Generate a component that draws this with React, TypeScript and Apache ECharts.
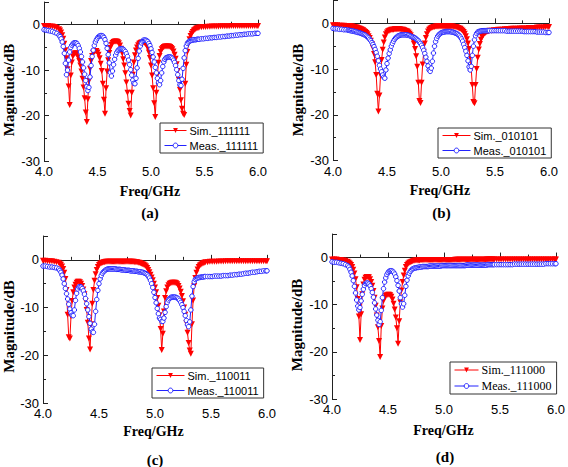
import React, { useEffect, useRef } from "react";
import * as echarts from "echarts";

// Frequency sweep (GHz), shared by every panel
const freq = [
  4.00, 4.02, 4.04, 4.06, 4.08, 4.10, 4.12, 4.14,
  4.15, 4.16, 4.17, 4.18, 4.19, 4.20, 4.21, 4.22, 4.23, 4.24,
  4.25, 4.26, 4.27, 4.28, 4.29, 4.30, 4.31, 4.32, 4.33, 4.34,
  4.35, 4.36, 4.37, 4.38, 4.39, 4.40, 4.41, 4.42, 4.43, 4.44,
  4.45, 4.46, 4.47, 4.48, 4.49, 4.50, 4.51, 4.52, 4.53, 4.54,
  4.55, 4.56, 4.57, 4.58, 4.59, 4.60, 4.61, 4.62, 4.63, 4.64,
  4.65, 4.66, 4.67, 4.68, 4.69, 4.70, 4.71, 4.72, 4.73, 4.74,
  4.75, 4.76, 4.77, 4.78, 4.79, 4.80, 4.81, 4.82, 4.83, 4.84,
  4.85, 4.86, 4.87, 4.88, 4.89, 4.90, 4.91, 4.92, 4.93, 4.94,
  4.95, 4.96, 4.97, 4.98, 4.99, 5.00, 5.01, 5.02, 5.03, 5.04,
  5.05, 5.06, 5.07, 5.08, 5.09, 5.10, 5.11, 5.12, 5.13, 5.14,
  5.15, 5.16, 5.17, 5.18, 5.19, 5.20, 5.21, 5.22, 5.23, 5.24,
  5.25, 5.26, 5.27, 5.28, 5.29, 5.30, 5.31, 5.32, 5.33, 5.34,
  5.35, 5.36, 5.37, 5.38, 5.39, 5.40, 5.41, 5.42, 5.43, 5.44, 5.45,
  5.47, 5.49, 5.51, 5.53, 5.55, 5.57, 5.59, 5.61, 5.63, 5.65, 5.67, 5.69, 5.71, 5.73,
  5.75, 5.77, 5.79, 5.81, 5.83, 5.85, 5.87, 5.89, 5.91, 5.93, 5.95, 5.97, 5.99, 6.00,
];

// (a) 111111
const simA = [
  -0.3, -0.3, -0.3, -0.4, -0.4, -0.5, -0.7, -1.0,
  -1.3, -1.7, -2.3, -3.1, -4.2, -5.6, -7.4, -9.8, -13.6, -17.7,
  -11.2, -8.3, -7.0, -6.5, -6.3, -6.3, -6.6, -7.2, -8.0, -9.0,
  -10.3, -11.9, -13.8, -16.2, -19.3, -21.4, -16.4, -12.4, -9.7, -8.0,
  -6.9, -6.2, -5.9, -5.8, -5.8, -6.1, -6.6, -7.4, -8.6, -10.2,
  -13.0, -16.5, -19.6, -14.0, -10.3, -7.8, -6.2, -5.1, -4.4, -4.0,
  -3.8, -3.7, -3.7, -3.7, -3.8, -4.1, -4.6, -5.3, -6.3, -7.6,
  -9.0, -10.7, -12.7, -15.0, -17.4, -19.0, -20.0, -15.0, -11.0, -8.3,
  -6.7, -5.7, -5.0, -4.5, -4.2, -4.0, -3.9, -3.9, -3.9, -4.0,
  -4.2, -4.6, -5.2, -6.1, -7.3, -9.0, -11.2, -14.0, -17.3, -20.3,
  -15.0, -11.0, -8.4, -6.9, -6.0, -5.4, -5.1, -4.9, -4.8, -4.8,
  -4.8, -4.8, -4.8, -4.9, -5.1, -5.4, -5.9, -6.6, -7.5, -8.7,
  -10.2, -12.1, -14.3, -16.6, -18.5, -19.6, -19.9, -13.0, -8.8, -6.0,
  -4.3, -3.2, -2.5, -2.0, -1.6, -1.3, -1.1, -0.9, -0.8, -0.7, -0.6,
  -0.55, -0.5, -0.5, -0.45, -0.45, -0.4, -0.4, -0.4, -0.4, -0.35, -0.35, -0.35, -0.35, -0.35,
  -0.3, -0.3, -0.3, -0.3, -0.3, -0.3, -0.3, -0.3, -0.3, -0.3, -0.3, -0.3, -0.3, -0.3,
];
const measA = [
  -1.1, -1.2, -1.3, -1.4, -1.5, -1.7, -1.9, -2.3,
  -2.6, -3.1, -3.8, -4.8, -6.3, -8.5, -11.0, -10.0, -7.8, -6.0,
  -5.0, -4.5, -4.2, -4.0, -4.0, -4.0, -4.2, -4.6, -5.2, -6.0,
  -7.0, -8.2, -9.5, -10.9, -12.3, -13.6, -14.5, -13.8, -11.5, -9.0,
  -7.0, -5.6, -4.6, -3.8, -3.3, -2.9, -2.6, -2.5, -2.4, -2.4,
  -2.5, -2.8, -3.3, -4.1, -5.2, -6.6, -8.4, -10.5, -11.3, -10.2,
  -8.8, -7.6, -6.7, -6.1, -5.7, -5.5, -5.3, -5.3, -5.3, -5.4,
  -5.6, -5.9, -6.4, -7.0, -7.8, -8.8, -9.9, -11.1, -12.2, -12.9,
  -13.0, -11.8, -9.5, -7.4, -5.8, -4.7, -4.0, -3.6, -3.4, -3.4,
  -3.4, -3.5, -3.7, -4.1, -4.6, -5.3, -6.1, -7.1, -8.2, -9.4,
  -10.6, -11.8, -12.8, -13.2, -12.3, -10.6, -9.2, -8.2, -7.6, -7.3,
  -7.2, -7.1, -7.1, -7.1, -7.2, -7.4, -7.8, -8.3, -9.0, -9.9,
  -11.0, -12.3, -13.2, -13.4, -12.0, -9.6, -7.3, -5.7, -4.7, -4.1,
  -3.8, -3.6, -3.5, -3.4, -3.4, -3.3, -3.3, -3.3, -3.2, -3.2, -3.2,
  -3.1, -3.1, -3.0, -3.0, -2.9, -2.9, -2.8, -2.8, -2.7, -2.7, -2.6, -2.6, -2.5, -2.5,
  -2.4, -2.4, -2.3, -2.3, -2.2, -2.2, -2.1, -2.1, -2.0, -2.0, -2.0, -1.9, -1.9, -1.9,
];

// (b) 010101
const simB = [
  -0.4, -0.4, -0.4, -0.5, -0.5, -0.5, -0.6, -0.6,
  -0.6, -0.7, -0.7, -0.7, -0.8, -0.8, -0.9, -0.9, -1.0, -1.1,
  -1.2, -1.3, -1.4, -1.5, -1.7, -1.9, -2.1, -2.4, -2.8, -3.2,
  -3.8, -4.5, -5.4, -6.7, -8.5, -11.3, -15.4, -19.3, -15.8, -11.3,
  -8.0, -5.8, -4.2, -3.1, -2.4, -2.0, -1.7, -1.6, -1.5, -1.4,
  -1.4, -1.4, -1.3, -1.3, -1.3, -1.3, -1.3, -1.3, -1.4, -1.4,
  -1.4, -1.5, -1.6, -1.7, -1.8, -2.0, -2.3, -2.6, -3.1, -3.7,
  -4.5, -5.6, -7.2, -9.5, -13.0, -17.0, -17.4, -13.0, -9.0, -6.2,
  -4.4, -3.2, -2.4, -1.8, -1.4, -1.2, -1.0, -0.9, -0.8, -0.8,
  -0.7, -0.7, -0.7, -0.7, -0.7, -0.7, -0.7, -0.7, -0.7, -0.7,
  -0.7, -0.7, -0.7, -0.7, -0.7, -0.7, -0.7, -0.8, -0.8, -0.8,
  -0.9, -1.0, -1.1, -1.2, -1.4, -1.6, -1.9, -2.3, -2.8, -3.5,
  -4.4, -5.6, -7.4, -10.0, -13.5, -17.2, -17.5, -13.5, -10.0, -7.5,
  -5.7, -4.5, -3.6, -3.0, -2.6, -2.3, -2.1, -1.9, -1.8, -1.7, -1.6,
  -1.6, -1.5, -1.5, -1.4, -1.4, -1.4, -1.3, -1.3, -1.3, -1.2, -1.2, -1.2, -1.2, -1.1,
  -1.1, -1.1, -1.1, -1.0, -1.0, -1.0, -1.0, -0.9, -0.9, -0.9, -0.9, -0.8, -0.8, -0.8,
];
const measB = [
  -1.1, -1.2, -1.2, -1.3, -1.3, -1.4, -1.4, -1.5,
  -1.5, -1.6, -1.6, -1.7, -1.7, -1.8, -1.8, -1.9, -2.0, -2.0,
  -2.1, -2.2, -2.3, -2.4, -2.5, -2.6, -2.8, -3.0, -3.2, -3.5,
  -3.8, -4.2, -4.6, -5.1, -5.7, -6.4, -7.2, -8.2, -9.2, -10.0,
  -10.6, -11.3, -11.8, -12.0, -10.2, -8.8, -7.6, -6.6, -5.8, -5.0,
  -4.4, -3.9, -3.5, -3.2, -3.0, -2.8, -2.7, -2.6, -2.5, -2.5,
  -2.5, -2.5, -2.5, -2.5, -2.6, -2.6, -2.7, -2.8, -2.9, -3.0,
  -3.1, -3.2, -3.4, -3.6, -3.8, -4.1, -4.4, -4.8, -5.3, -5.9,
  -6.6, -7.4, -8.3, -9.3, -10.2, -10.5, -9.8, -8.3, -6.5, -5.0,
  -4.0, -3.3, -2.8, -2.5, -2.3, -2.1, -2.0, -1.9, -1.9, -1.8,
  -1.8, -1.8, -1.8, -1.8, -1.8, -1.9, -1.9, -2.0, -2.1, -2.2,
  -2.3, -2.5, -2.7, -3.0, -3.4, -3.9, -4.6, -5.3, -6.1, -7.0,
  -8.2, -9.5, -10.2, -9.4, -7.0, -5.0, -3.6, -2.7, -2.2, -1.9,
  -1.8, -1.7, -1.7, -1.6, -1.6, -1.6, -1.6, -1.6, -1.6, -1.6, -1.6,
  -1.6, -1.6, -1.6, -1.6, -1.6, -1.6, -1.6, -1.7, -1.7, -1.7, -1.7, -1.7, -1.7, -1.7,
  -1.7, -1.8, -1.8, -1.8, -1.8, -1.8, -1.8, -1.9, -1.9, -1.9, -1.9, -2.0, -2.0, -2.0,
];

// (c) 110011
const simC = [
  -0.2, -0.2, -0.3, -0.3, -0.3, -0.4, -0.5, -0.6,
  -0.8, -1.0, -1.4, -1.9, -2.7, -4.0, -6.3, -11.5, -16.2, -16.5,
  -11.8, -8.6, -6.8, -5.8, -5.2, -4.8, -4.6, -4.6, -4.7, -5.0,
  -5.5, -6.2, -7.2, -8.6, -10.5, -13.2, -16.5, -18.8, -13.5, -9.2,
  -6.3, -4.4, -3.0, -2.1, -1.5, -1.1, -0.8, -0.7, -0.6, -0.5,
  -0.5, -0.4, -0.4, -0.4, -0.4, -0.4, -0.4, -0.4, -0.4, -0.4,
  -0.4, -0.4, -0.4, -0.4, -0.4, -0.4, -0.4, -0.4, -0.4, -0.4,
  -0.4, -0.4, -0.4, -0.4, -0.4, -0.4, -0.4, -0.5, -0.5, -0.5,
  -0.6, -0.6, -0.7, -0.8, -0.9, -1.0, -1.2, -1.4, -1.7, -2.1,
  -2.6, -3.1, -3.7, -4.3, -5.0, -5.8, -6.8, -8.0, -9.6, -11.6,
  -14.5, -18.9, -15.5, -10.8, -8.0, -6.6, -5.8, -5.3, -5.0, -4.9,
  -4.8, -4.8, -4.8, -4.8, -4.9, -5.1, -5.5, -6.0, -6.7, -7.6,
  -8.7, -10.0, -11.5, -13.3, -15.3, -17.4, -19.0, -19.7, -13.5, -8.5,
  -5.5, -3.8, -2.7, -2.0, -1.5, -1.2, -1.0, -0.8, -0.7, -0.6, -0.5,
  -0.5, -0.4, -0.4, -0.4, -0.4, -0.35, -0.35, -0.35, -0.3, -0.3, -0.3, -0.3, -0.3, -0.3,
  -0.3, -0.3, -0.3, -0.3, -0.3, -0.3, -0.3, -0.3, -0.3, -0.3, -0.3, -0.3, -0.3, -0.3,
];
const measC = [
  -1.3, -1.3, -1.4, -1.5, -1.5, -1.6, -1.7, -1.9,
  -2.2, -2.6, -3.2, -4.0, -5.0, -6.0, -7.1, -8.2, -9.3, -10.3,
  -11.1, -11.6, -11.7, -10.5, -8.5, -7.0, -6.1, -5.7, -5.6, -5.7,
  -6.0, -6.5, -7.2, -8.1, -9.2, -10.5, -11.9, -13.3, -14.5, -15.1,
  -15.2, -13.5, -10.8, -8.3, -6.4, -5.0, -4.0, -3.3, -2.8, -2.5,
  -2.3, -2.1, -2.0, -1.9, -1.9, -1.9, -1.9, -1.9, -1.9, -1.9,
  -1.9, -2.0, -2.0, -2.0, -2.0, -2.1, -2.1, -2.1, -2.1, -2.2,
  -2.2, -2.2, -2.2, -2.3, -2.3, -2.3, -2.3, -2.4, -2.4, -2.4,
  -2.5, -2.5, -2.5, -2.6, -2.6, -2.7, -2.8, -2.9, -3.1, -3.4,
  -3.8, -4.3, -5.0, -5.8, -6.8, -7.9, -9.0, -10.2, -11.3, -12.2,
  -12.5, -12.9, -12.9, -12.2, -11.0, -9.8, -8.9, -8.4, -8.1, -7.9,
  -7.8, -7.8, -7.8, -7.8, -7.9, -8.0, -8.2, -8.5, -8.9, -9.4,
  -10.0, -10.8, -11.7, -12.7, -13.6, -14.0, -13.0, -10.5, -7.6, -5.6,
  -4.6, -4.1, -3.9, -3.8, -3.7, -3.7, -3.6, -3.6, -3.6, -3.5, -3.5,
  -3.5, -3.5, -3.5, -3.4, -3.4, -3.4, -3.4, -3.3, -3.3, -3.3, -3.2, -3.2, -3.1, -3.1,
  -3.0, -3.0, -2.9, -2.8, -2.8, -2.7, -2.6, -2.6, -2.5, -2.4, -2.4, -2.3, -2.3, -2.3,
];

// (d) 111000
const simD = [
  -0.4, -0.4, -0.4, -0.5, -0.5, -0.6, -0.7, -0.9,
  -1.1, -1.3, -1.6, -2.0, -2.6, -3.4, -4.6, -6.3, -8.8, -12.5,
  -17.5, -12.0, -7.8, -5.7, -4.7, -4.3, -4.1, -4.1, -4.2, -4.6,
  -5.2, -6.0, -7.1, -8.5, -10.2, -12.3, -14.8, -17.7, -21.1, -14.5,
  -10.8, -9.2, -8.5, -8.1, -8.0, -7.9, -7.9, -8.0, -8.3, -8.9,
  -9.8, -11.0, -12.7, -15.0, -18.3, -13.5, -9.5, -7.0, -5.2, -3.8,
  -2.8, -2.0, -1.6, -1.3, -1.1, -1.0, -0.9, -0.8, -0.7, -0.7,
  -0.6, -0.6, -0.6, -0.6, -0.5, -0.5, -0.5, -0.5, -0.5, -0.5,
  -0.5, -0.5, -0.5, -0.5, -0.5, -0.5, -0.5, -0.5, -0.5, -0.5,
  -0.5, -0.5, -0.5, -0.5, -0.5, -0.5, -0.5, -0.5, -0.5, -0.5,
  -0.5, -0.5, -0.5, -0.5, -0.5, -0.45, -0.45, -0.45, -0.45, -0.45,
  -0.45, -0.45, -0.45, -0.45, -0.45, -0.45, -0.45, -0.45, -0.45, -0.45,
  -0.45, -0.45, -0.45, -0.45, -0.45, -0.45, -0.45, -0.45, -0.45, -0.45,
  -0.45, -0.45, -0.45, -0.4, -0.4, -0.4, -0.4, -0.4, -0.4, -0.4, -0.4,
  -0.4, -0.4, -0.4, -0.4, -0.4, -0.4, -0.4, -0.4, -0.4, -0.4, -0.4, -0.4, -0.4, -0.4,
  -0.4, -0.4, -0.4, -0.4, -0.4, -0.4, -0.4, -0.4, -0.4, -0.4, -0.4, -0.4, -0.4, -0.4,
];
const measD = [
  -0.9, -1.0, -1.0, -1.1, -1.2, -1.3, -1.5, -1.7,
  -2.0, -2.5, -3.1, -3.9, -4.9, -6.1, -7.5, -9.0, -10.3, -11.1,
  -10.6, -9.2, -7.8, -6.7, -5.9, -5.5, -5.4, -5.4, -5.6, -6.0,
  -6.6, -7.4, -8.4, -9.6, -10.9, -12.2, -13.3, -14.2, -13.6, -11.2,
  -8.5, -6.6, -5.2, -4.3, -3.6, -3.2, -2.9, -2.8, -2.8, -2.9,
  -3.1, -3.5, -4.1, -4.9, -5.9, -7.1, -8.5, -9.8, -10.5, -9.8,
  -8.0, -6.1, -4.8, -3.9, -3.3, -2.9, -2.6, -2.4, -2.3, -2.2,
  -2.2, -2.1, -2.1, -2.0, -2.0, -2.0, -1.9, -1.9, -1.9, -1.9,
  -1.9, -1.9, -1.8, -1.8, -1.8, -1.8, -1.8, -1.8, -1.8, -1.8,
  -1.8, -1.8, -1.8, -1.7, -1.7, -1.7, -1.7, -1.7, -1.7, -1.7,
  -1.7, -1.7, -1.7, -1.7, -1.7, -1.7, -1.7, -1.7, -1.7, -1.7,
  -1.7, -1.7, -1.7, -1.7, -1.7, -1.6, -1.6, -1.6, -1.6, -1.6,
  -1.6, -1.6, -1.6, -1.6, -1.6, -1.6, -1.6, -1.6, -1.6, -1.6,
  -1.6, -1.6, -1.6, -1.6, -1.5, -1.5, -1.5, -1.5, -1.5, -1.5, -1.5,
  -1.5, -1.5, -1.5, -1.5, -1.5, -1.5, -1.5, -1.5, -1.4, -1.4, -1.4, -1.4, -1.4, -1.4,
  -1.4, -1.4, -1.4, -1.4, -1.4, -1.4, -1.4, -1.4, -1.3, -1.3, -1.3, -1.3, -1.3, -1.3,
];

const codes = ["111111", "010101", "110011", "111000"];
const panelLetters = ["(a)", "(b)", "(c)", "(d)"];
const simSeries = [simA, simB, simC, simD];
const measSeries = [measA, measB, measC, measD];
const xTicks = [4.0, 4.5, 5.0, 5.5, 6.0];
const yTicks = [0, -10, -20, -30];

const SANS = '"Liberation Sans", Arial, Helvetica, sans-serif';
const SERIF = '"Liberation Serif", "Times New Roman", Times, serif';
const RED = "#ff0000";
const BLUE = "#2323ff";
const AXIS = "#222222";

// layout (pixels)
const grids = [
  { left: 44, top: 2, width: 214, height: 159 },
  { left: 333, top: 0.5, width: 216, height: 160 },
  { left: 43, top: 236, width: 224, height: 167 },
  { left: 332, top: 234, width: 225, height: 165 },
];
const magPos = [[8.5, 90], [298, 90], [8.5, 326.5], [297, 325]];
const freqPos = [[150, 191.5], [440, 190.5], [153.5, 431.5], [443.5, 430]];
const letterPos = [[150, 213], [441.5, 213], [155, 460], [445, 456.5]];
const legendPos = [
  { left: 160, top: 123, w: 22, font: SANS, size: 11 },
  { left: 438, top: 128, w: 28, font: SANS, size: 11 },
  { left: 152, top: 368, w: 28, font: SANS, size: 11 },
  { left: 450, top: 362, w: 24, font: SERIF, size: 12 },
];

export default function App() {
  const ref = useRef<HTMLDivElement>(null);
  useEffect(() => {
    if (!ref.current) return;
    const chart = echarts.init(ref.current, undefined, { renderer: "svg" });
    const xAxis: any[] = [];
    const yAxis: any[] = [];
    const series: any[] = [];
    const legend: any[] = [];
    const graphic: any[] = [];
    grids.forEach((g, i) => {
      xAxis.push({
        type: "value",
        gridIndex: i,
        min: xTicks[0],
        max: xTicks[xTicks.length - 1],
        interval: 0.5,
        axisLine: { show: true, lineStyle: { color: AXIS, width: 1 } },
        axisTick: { show: true, inside: true, length: 5, lineStyle: { color: AXIS } },
        minorTick: { show: true, splitNumber: 2, length: 3, lineStyle: { color: AXIS } },
        splitLine: { show: false },
        axisLabel: {
          margin: 4,
          fontFamily: SANS,
          fontSize: 13,
          color: "#000",
          formatter: (v: number) => v.toFixed(1),
        },
      });
      yAxis.push({
        type: "value",
        gridIndex: i,
        min: yTicks[yTicks.length - 1],
        max: 5,
        interval: 10,
        axisLine: { show: true, lineStyle: { color: AXIS, width: 1 } },
        axisTick: { show: true, inside: true, length: 5, lineStyle: { color: AXIS } },
        minorTick: { show: true, splitNumber: 2, length: 3, lineStyle: { color: AXIS } },
        splitLine: { show: false },
        axisLabel: {
          margin: 4,
          fontFamily: SANS,
          fontSize: 13,
          color: "#000",
          formatter: (v: number) => (yTicks.includes(v) ? String(v) : ""),
        },
      });
      const simName = "Sim._" + codes[i];
      const measName = "Meas._" + codes[i];
      series.push({
        type: "line",
        name: simName,
        xAxisIndex: i,
        yAxisIndex: i,
        data: freq.map((f, k) => [f, simSeries[i][k]]),
        symbol: "triangle",
        symbolRotate: 180,
        symbolSize: 6,
        showSymbol: true,
        showAllSymbol: true,
        lineStyle: { color: RED, width: 1 },
        itemStyle: { color: RED },
        z: 2,
      });
      series.push({
        type: "line",
        name: measName,
        xAxisIndex: i,
        yAxisIndex: i,
        data: freq.map((f, k) => [f, measSeries[i][k]]),
        symbol: "circle",
        symbolSize: 4.5,
        showSymbol: true,
        showAllSymbol: true,
        lineStyle: { color: BLUE, width: 1 },
        itemStyle: { color: "#ffffff", borderColor: BLUE, borderWidth: 1 },
        z: 3,
      });
      const lp = legendPos[i];
      legend.push({
        data: [simName, measName],
        orient: "vertical",
        left: lp.left,
        top: lp.top,
        itemWidth: lp.w,
        itemHeight: 6,
        itemGap: 4,
        padding: [2, 5, 2, 4],
        borderColor: "#333",
        borderWidth: 1,
        selectedMode: false,
        lineStyle: { width: 1 },
        itemStyle: { borderWidth: 1 },
        textStyle: { fontFamily: lp.font, fontSize: lp.size, color: "#000", padding: [0, 0, 0, -2] },
      });
      graphic.push({
        type: "text",
        x: magPos[i][0],
        y: magPos[i][1],
        rotation: Math.PI / 2,
        style: {
          text: "Magnitude/dB",
          font: `bold 15px ${SERIF}`,
          fill: "#000",
          align: "center",
          verticalAlign: "middle",
        },
      });
      graphic.push({
        type: "text",
        x: freqPos[i][0],
        y: freqPos[i][1],
        style: {
          text: "Freq/GHz",
          font: `bold 14px ${SERIF}`,
          fill: "#000",
          align: "center",
          verticalAlign: "middle",
        },
      });
      graphic.push({
        type: "text",
        x: letterPos[i][0],
        y: letterPos[i][1],
        style: {
          text: panelLetters[i],
          font: `bold 15px ${SERIF}`,
          fill: "#000",
          align: "center",
          verticalAlign: "middle",
        },
      });
    });
    chart.setOption({
      animation: false,
      backgroundColor: "#ffffff",
      grid: grids.map((g) => ({ ...g, containLabel: false })),
      xAxis,
      yAxis,
      series,
      legend,
      graphic,
    });
    return () => chart.dispose();
  }, []);
  return (
    <div
      ref={ref}
      style={{ position: "absolute", left: 0, top: 0, width: 568, height: 467 }}
    />
  );
}
